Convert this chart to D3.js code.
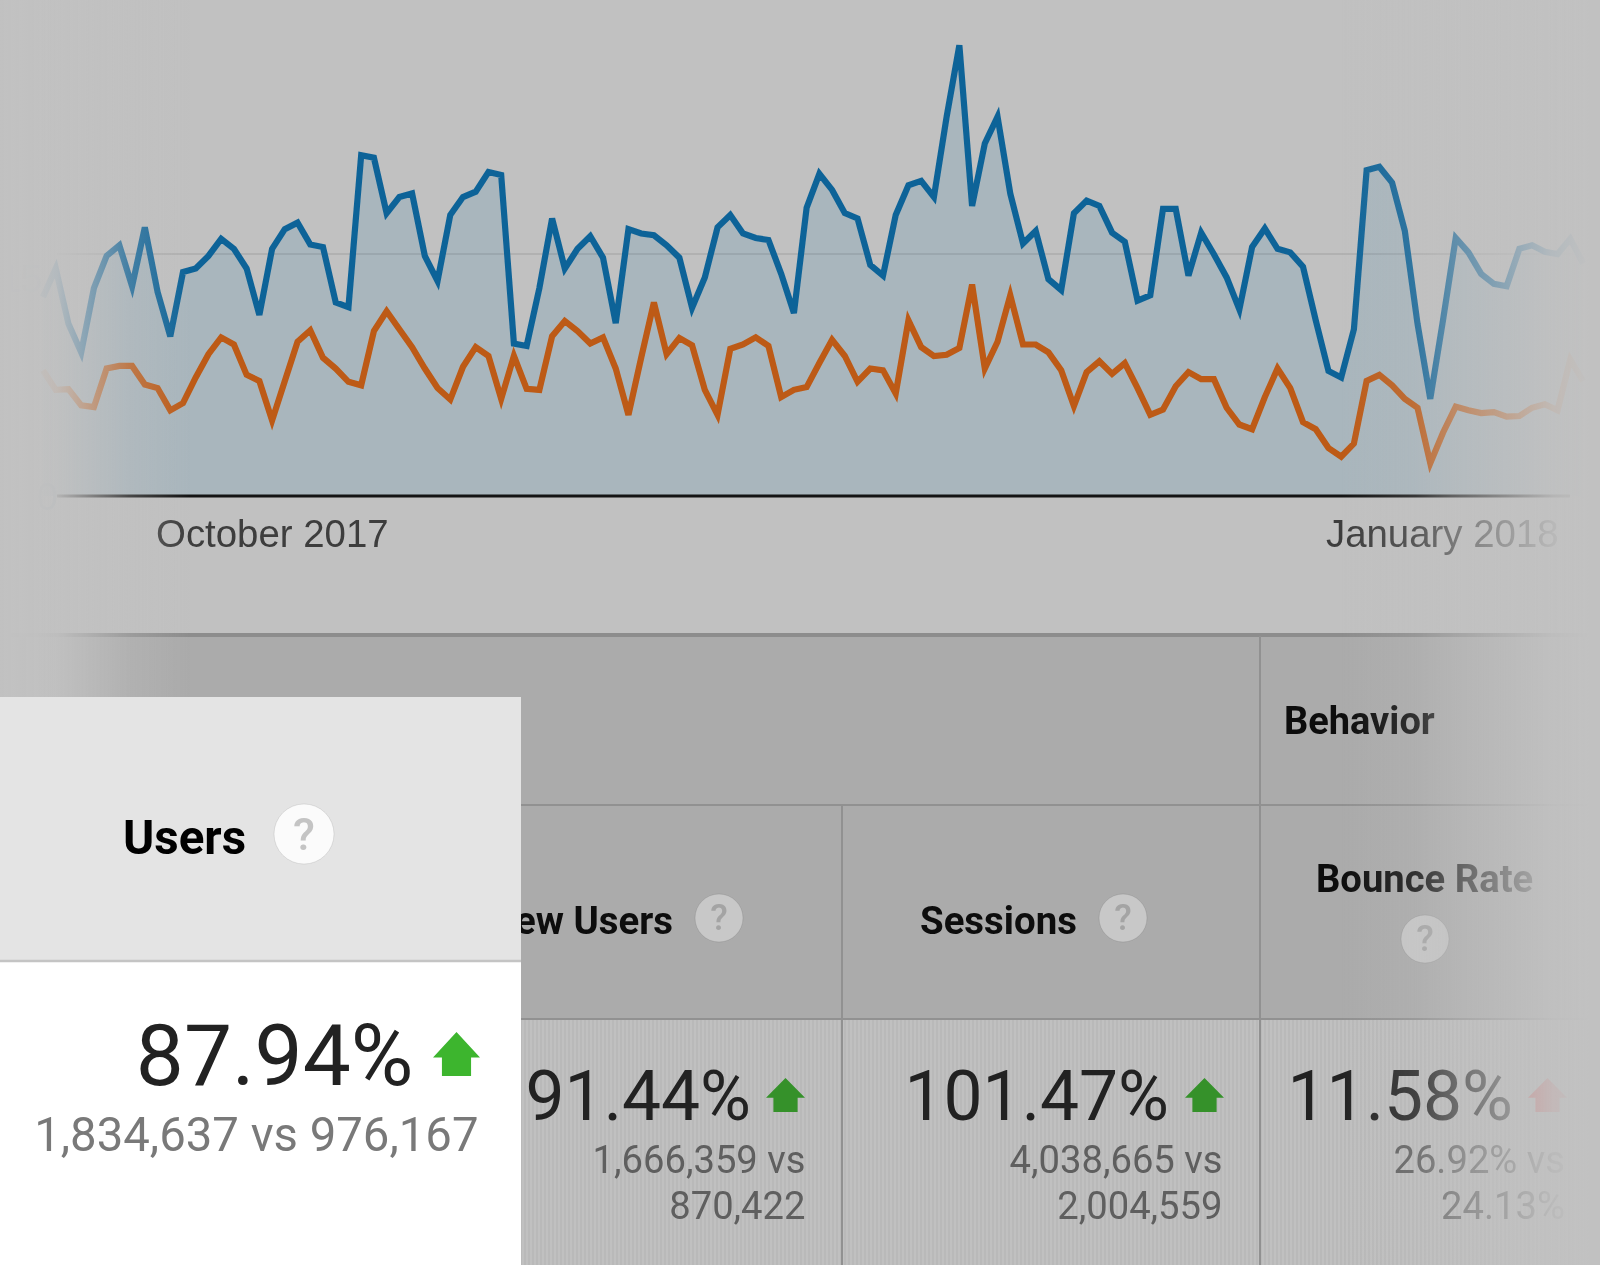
<!DOCTYPE html>
<html><head><meta charset="utf-8">
<script src="https://cdn.jsdelivr.net/npm/d3@7/dist/d3.min.js"></script>
<style>html,body{margin:0;padding:0;background:#c1c1c1}svg{display:block}</style>
</head><body><div id="c"></div>
<script>
const usersCurrent=[12330,14100,10670,8900,12890,14880,15540,13000,16650,12660,9900,13880,14100,14880,15940,15320,14100,11220,15320,16540,16940,15590,15430,12000,11710,21120,20970,17530,18530,18750,14880,13330,17420,18530,18860,20080,19900,9450,9300,12890,17200,14100,15320,16100,14770,10720,16540,16270,16160,15540,14770,11670,13550,16650,17420,16270,15990,15870,13770,11340,17870,19970,18970,17530,17200,14320,13660,17420,19260,19530,18530,23510,27940,17980,21850,23510,18750,15650,16430,13440,12770,17530,18310,17980,16320,15760,12110,12440,17800,17800,13660,16320,14990,13550,11560,15430,16580,15320,15100,14210,10890,7750,7350,10340,20190,20410,19420,16430,10670,6020,10890,15990,15100,13770,13150,13000,15320,15540,15140,14990,15940,14430];
const usersPrevious=[7790,6580,6620,5620,5510,7900,8060,8060,6910,6690,5310,5760,7350,8790,9830,9390,7510,7130,4690,7130,9560,10270,8570,7900,7080,6860,10230,11450,10340,9230,7900,6690,5980,8010,9230,8680,6020,8680,6640,6580,9900,10850,10230,9450,9830,7900,5030,8570,12000,8790,9790,9340,6580,5030,9120,9390,9830,9300,6130,6580,6750,8240,9680,8680,7080,7900,7790,6350,10890,9230,8680,8750,9170,13110,7900,9560,12440,9390,9390,8900,7790,5580,7680,8350,7570,8240,6690,5030,5360,6800,7680,7240,7240,5470,4430,4140,6130,7900,6690,4580,4140,2970,2440,3250,7130,7510,6860,6020,5470,2040,3920,5540,5310,5140,5200,4920,4960,5470,5690,5310,8460,7130];
const xTickDays=[9,101];
const xTickLabels=["October 2017","January 2018"];
const yTicks=[0,15000];
const metricNames=["Users","New Users","Sessions","Bounce Rate"];
const groupName="Behavior";
const metricPct=["87.94%","91.44%","101.47%","11.58%"];
const metricSub=[["1,834,637 vs 976,167"],["1,666,359 vs","870,422"],["4,038,665 vs","2,004,559"],["26.92% vs","24.13%"]];

const W=1600,H=1265,BG="#c1c1c1";
const svg=d3.select("#c").append("svg").attr("width",W).attr("height",H).attr("viewBox",[0,0,W,H]);
const defs=svg.append("defs");
const gradL=defs.append("linearGradient").attr("id","fl");
[[0,1],[0.2,0.98],[0.3,0.93],[0.42,0.74],[0.58,0.48],[0.68,0.3],[1,0]].forEach(s=>gradL.append("stop").attr("offset",s[0]).attr("stop-color",BG).attr("stop-opacity",s[1]));
const gradR=defs.append("linearGradient").attr("id","fr");
[[0,0],[0.3,0.2],[0.45,0.45],[0.7,0.75],[0.85,0.93],[1,1]].forEach(s=>gradR.append("stop").attr("offset",s[0]).attr("stop-color",BG).attr("stop-opacity",s[1]));
const pat=defs.append("pattern").attr("id","hatch").attr("width",4).attr("height",4).attr("patternUnits","userSpaceOnUse");
pat.append("rect").attr("width",4).attr("height",4).attr("fill","#c0c0c0");
pat.append("rect").attr("width",2).attr("height",4).attr("fill","#b9b9b9");
const blur=defs.append("filter").attr("id","soft");
blur.append("feGaussianBlur").attr("stdDeviation",0.7);
const blur2=defs.append("filter").attr("id","softer");
blur2.append("feGaussianBlur").attr("stdDeviation",0.5);

svg.append("rect").attr("width",W).attr("height",H).attr("fill",BG);

const x=d3.scaleLinear().domain([0,usersCurrent.length-1]).range([43,1583]);
const y=d3.scaleLinear().domain([0,15000]).range([496,254]);

svg.append("path").datum(usersCurrent)
  .attr("d",d3.area().x((d,i)=>x(i)).y0(y(0)).y1(d=>y(d)))
  .attr("fill","#a9b6bd");
svg.append("g").selectAll("line").data(yTicks.slice(1)).join("line")
  .attr("x1",57).attr("x2",1590).attr("y1",d=>y(d)).attr("y2",d=>y(d))
  .attr("stroke","#000").attr("stroke-opacity",0.08).attr("stroke-width",2);
const line=d3.line().x((d,i)=>x(i)).y(d=>y(d));
svg.append("path").datum(usersCurrent).attr("d",line).attr("fill","none")
  .attr("stroke","#0f6398").attr("stroke-width",6.2).attr("stroke-linejoin","miter").attr("filter","url(#soft)");
svg.append("path").datum(usersPrevious).attr("d",line).attr("fill","none")
  .attr("stroke","#bd5a14").attr("stroke-width",6.2).attr("stroke-linejoin","miter").attr("filter","url(#soft)");

const xAxis=d3.axisBottom(x).tickValues(xTickDays).tickFormat((d,i)=>xTickLabels[i]).tickSize(0).tickPadding(0);
const gx=svg.append("g").attr("transform",`translate(0,${y(0)})`).attr("filter","url(#softer)").call(xAxis);
gx.select(".domain").remove();
gx.selectAll("text").attr("text-anchor","start").attr("dx",(d,i)=>i?-3:-2).attr("y",51).attr("dy",0)
  .attr("font-family","'Liberation Sans',Arial,sans-serif").attr("font-size",38.4).attr("fill","#3c3c3c");
svg.append("line").attr("x1",57).attr("x2",1570).attr("y1",y(0)).attr("y2",y(0)).attr("stroke","#141414").attr("stroke-width",3);

const yAxis=d3.axisLeft(y).tickValues(yTicks).tickFormat(d=>d/1000).tickSize(0).tickPadding(0);
const gy=svg.append("g").attr("transform","translate(58,0)").call(yAxis);
gy.select(".domain").remove();
gy.selectAll("text").attr("font-family","'Liberation Sans',Arial,sans-serif").attr("font-size",38).attr("fill","#8a9fae");
gy.selectAll(".tick:last-child text").attr("dy",37).attr("dx",-16);
gy.selectAll(".tick:first-child text").attr("dy",13);

/* table */
const t=svg.append("g").attr("filter","url(#softer)");
t.append("rect").attr("x",0).attr("y",636).attr("width",W).attr("height",383).attr("fill","#ababab");
t.append("rect").attr("x",0).attr("y",1019).attr("width",W).attr("height",H-1019).attr("fill","url(#hatch)");
t.append("rect").attr("x",0).attr("y",633).attr("width",W).attr("height",4).attr("fill","#8d8d8d");
[[521,1600,805,805],[521,1600,1019,1019],[842,842,805,H],[1260,1260,636,H]].forEach(l=>{
  t.append("line").attr("x1",l[0]).attr("x2",l[1]).attr("y1",l[2]).attr("y2",l[3]).attr("stroke","#919191").attr("stroke-width",2);
});

const font="Roboto,sans-serif";
function helpIcon(g,cx,cy,r,fill,qc){
  g.append("circle").attr("cx",cx).attr("cy",cy).attr("r",r).attr("fill",fill).attr("stroke","#00000018");
  g.append("text").attr("x",cx).attr("y",cy+r*0.52).attr("text-anchor","middle").attr("font-family",font)
    .attr("font-weight",500).attr("font-size",r*1.5).attr("fill",qc).text("?");
}
function arrow(g,l,r,top,bot,fill){
  const w=r-l,sh=top+(bot-top)*0.58,st=w*0.19;
  const p=d3.path();
  p.moveTo(l+w/2,top);p.lineTo(r,sh);p.lineTo(r-st,sh);p.lineTo(r-st,bot);p.lineTo(l+st,bot);p.lineTo(l+st,sh);p.lineTo(l,sh);p.closePath();
  g.append("path").attr("d",p.toString()).attr("fill",fill);
}
function txt(g,s,xp,yp,size,weight,fill,anchor){
  g.append("text").attr("x",xp).attr("y",yp).attr("font-family",font).attr("font-size",size)
   .attr("font-weight",weight).attr("fill",fill).attr("text-anchor",anchor||"start").text(s);
}
txt(t,metricNames[1],673,933.5,38.4,700,"#0c0c0c","end");
txt(t,metricNames[2],920,933.5,38.4,700,"#0c0c0c");
txt(t,groupName,1284,734,38,700,"#0c0c0c");
txt(t,metricNames[3],1316,891.5,38.2,700,"#0c0c0c");
helpIcon(t,719,918,24,"#c8c8c8","#a4a4a4");
helpIcon(t,1123,918,24,"#c8c8c8","#a4a4a4");
helpIcon(t,1425,939,24,"#c8c8c8","#a4a4a4");

const cellRight=[null,805.5,1222.5,1565],pctRight=[null,751,1169,1513],arrowL=[null,766,1185,1528];
[1,2,3].forEach(k=>{
  txt(t,metricPct[k],pctRight[k],1120,69.5,400,"#232323","end");
  metricSub[k].forEach((s,j)=>txt(t,s,cellRight[k],1173+j*45.5,38.2,400,"#5e5e5e","end"));
  arrow(t,arrowL[k],arrowL[k]+39,1078,1112,k===3?"#d84a4a":"#34912a");
});

/* edge fades */
svg.append("rect").attr("x",0).attr("y",0).attr("width",190).attr("height",H).attr("fill","url(#fl)");
svg.append("rect").attr("x",1340).attr("y",0).attr("width",250).attr("height",H).attr("fill","url(#fr)");
svg.append("rect").attr("x",1590).attr("y",0).attr("width",10).attr("height",H).attr("fill",BG);

/* highlighted panel */
const p=svg.append("g").attr("filter","url(#softer)");
p.append("rect").attr("x",0).attr("y",697).attr("width",521).attr("height",265).attr("fill","#e4e4e4");
p.append("rect").attr("x",0).attr("y",962).attr("width",521).attr("height",H-962).attr("fill","#fff");
p.append("line").attr("x1",0).attr("x2",521).attr("y1",961).attr("y2",961).attr("stroke","#c4c4c4").attr("stroke-width",2.5);
txt(p,metricNames[0],123,853.6,47.5,700,"#000");
helpIcon(p,304,834,30,"#fbfbfb","#c4c4c4");
txt(p,metricPct[0],413.5,1085,85.6,400,"#232323","end");
txt(p,metricSub[0][0],478.5,1150.6,47.3,400,"#797979","end");
arrow(p,433,480,1032,1076,"#3cb52f");
</script></body></html>
